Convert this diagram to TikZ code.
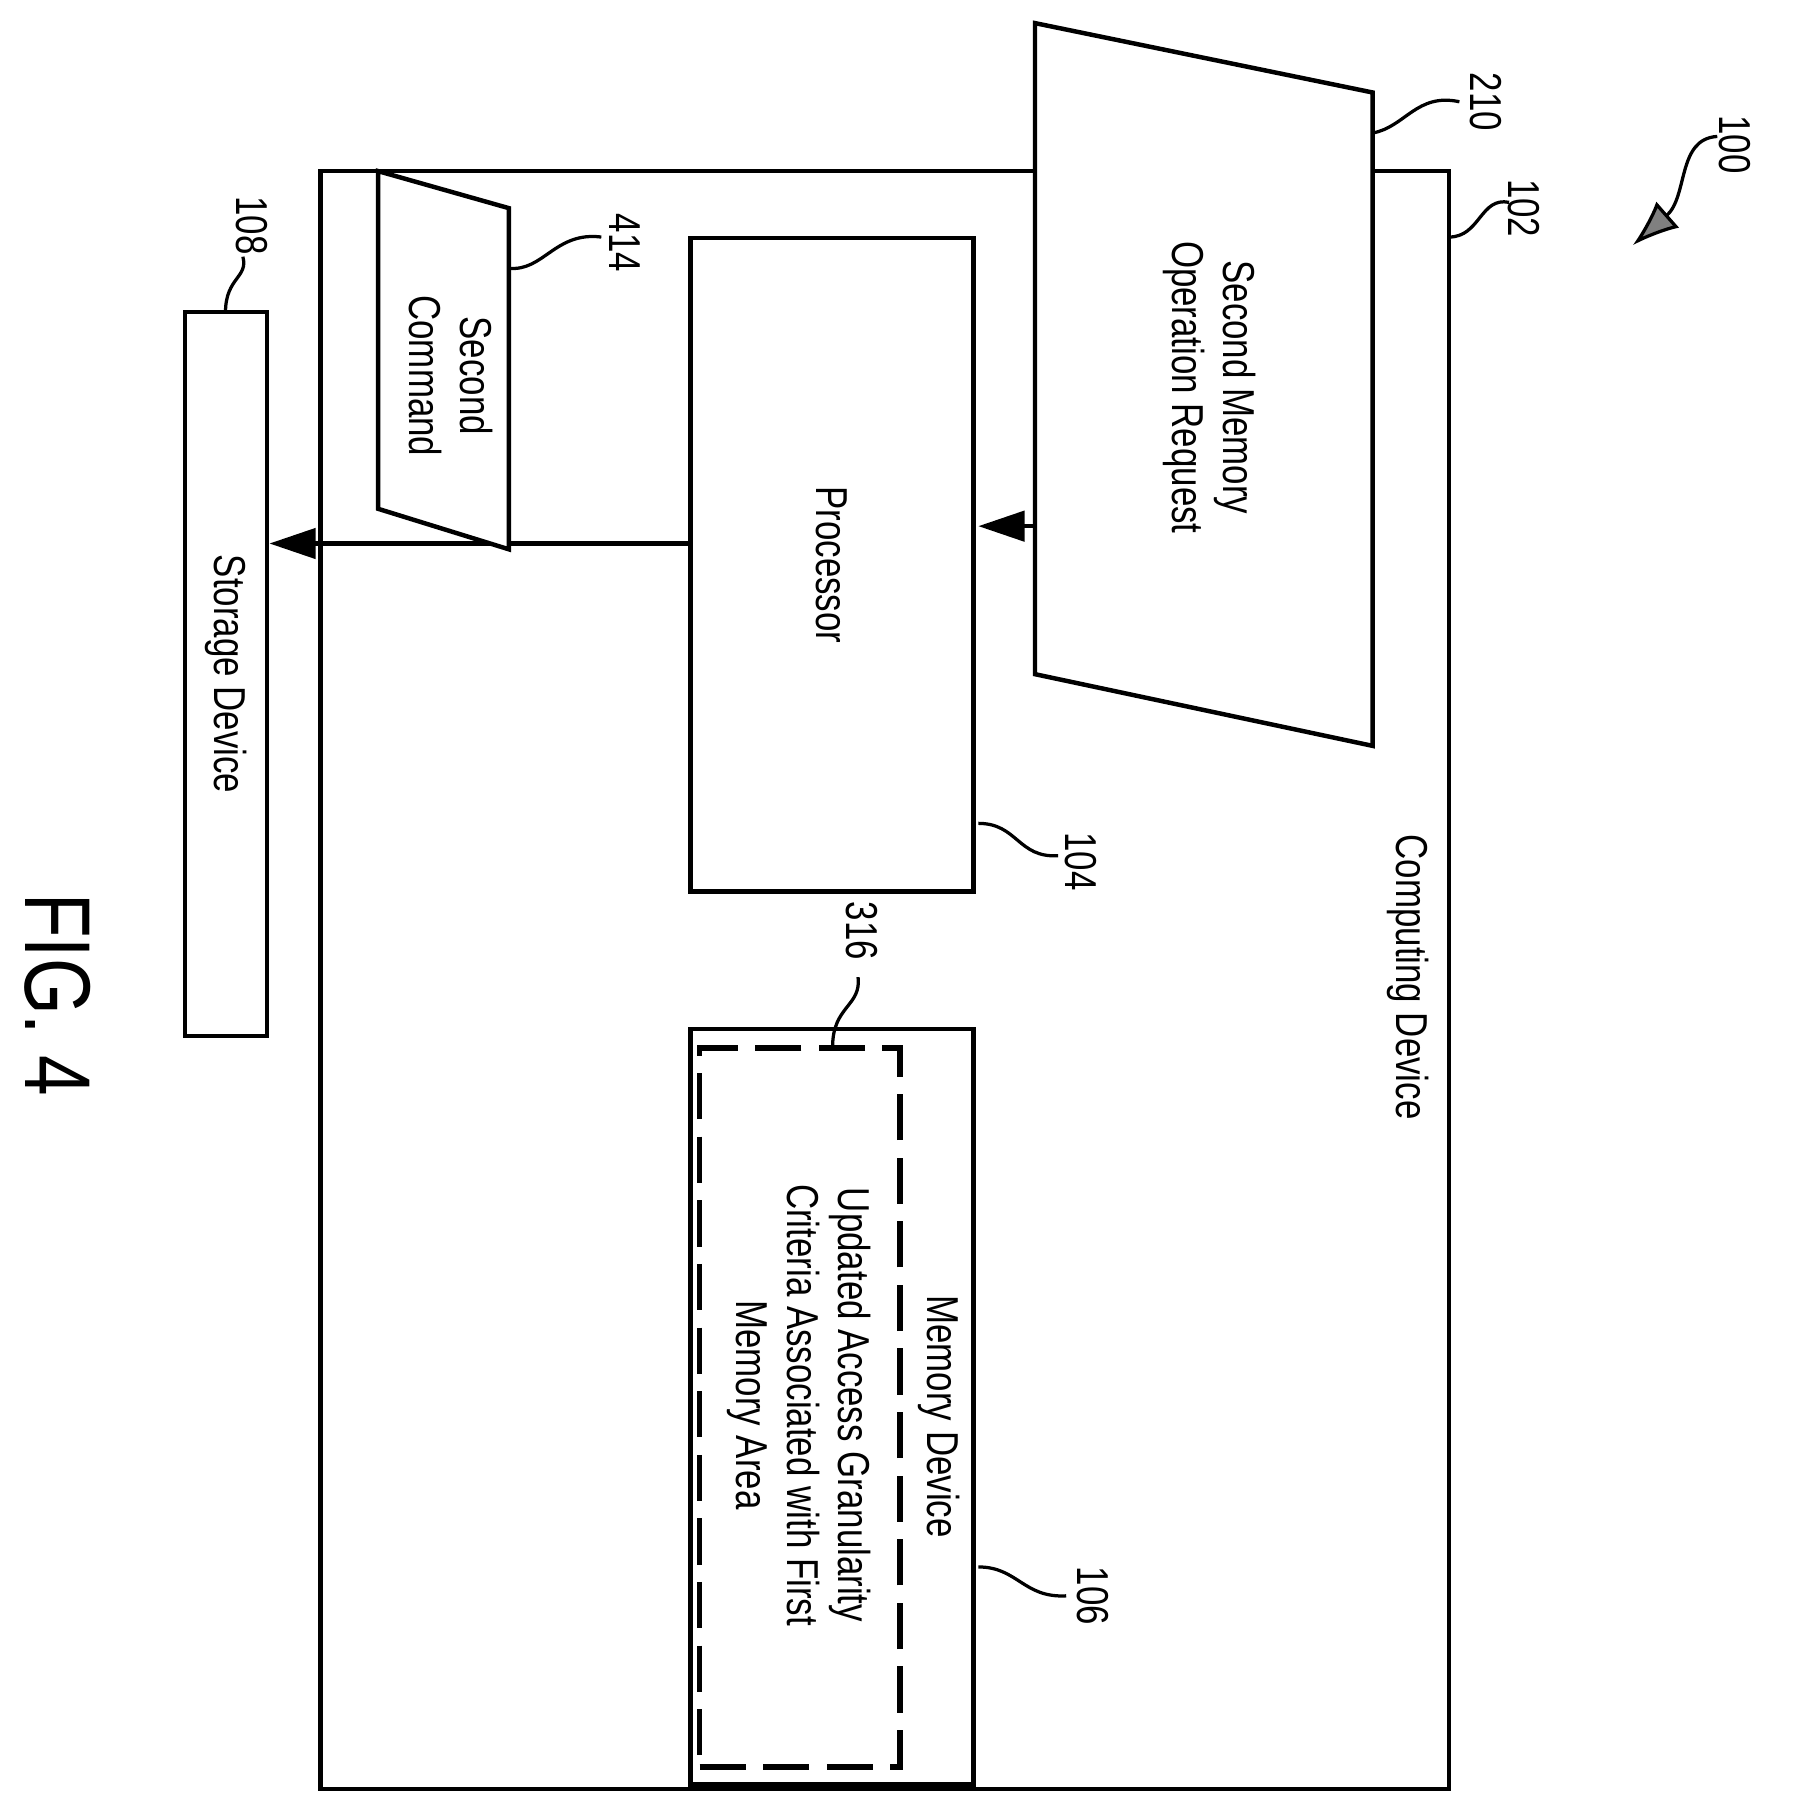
\documentclass[tikz,border=0pt]{standalone}
\usepackage{fontspec}
\setmainfont{Liberation Sans}
\usetikzlibrary{arrows.meta,decorations.pathmorphing}
\newcommand{\cnd}[1]{\scalebox{0.78}[1]{#1}}
\begin{document}
\begin{tikzpicture}[x=0.1mm,y=-0.1mm,line width=1.1pt,
  txt/.style={rotate=-90,font=\fontsize{11}{12.5}\selectfont,align=center,inner sep=0},
  lbl/.style={rotate=-90,font=\fontsize{11}{12}\selectfont,inner sep=0},
  box/.style={draw,anchor=north west,outer sep=0,inner sep=0},
  lead/.style={line width=0.8pt},
  arr/.style={-{Triangle[length=4mm,width=2.6mm]}}]
\useasboundingbox (0,0) rectangle (1560,1558);
\draw (277,148) rectangle (1253,1547);
\node[txt] (cd) at (1218,845) {\cnd{Computing Device}};
\draw[fill=white] (895,20) coordinate (t1) -- (1187,80) -- (1187,645) -- (895,583) -- cycle;
\node[txt] (smr) at (1045,335) {\cnd{\begin{tabular}{c}Second Memory\\Operation Request\end{tabular}}};
\node[box,minimum width=24.5mm,minimum height=56.5mm] (proc) at (597,206) {};
\node[txt] at (proc.center) {\cnd{Processor}};
\node[box,minimum width=24.5mm,minimum height=65.3mm] (mem) at (597,890) {};
\node[box,dash pattern=on 4mm off 1.5mm,line width=1.4pt,minimum width=17.3mm,minimum height=62.2mm] (gran) at (605,906) {};
\node[txt] at (812,1225) {\cnd{Memory Device}};
\node[txt] at (690,1215) {\cnd{\begin{tabular}{c}Updated Access Granularity\\Criteria Associated with First\\Memory Area\end{tabular}}};
\node[box,minimum width=7.1mm,minimum height=62.6mm] (stor) at (160,270) {};
\node[txt] at (stor.center) {\cnd{Storage Device}};
\draw[arr] (895,455) coordinate (a1) -- (846,455);
\draw[arr] (597,470) -- (233,470);
\draw[fill=white] (327,148) -- (440,180) -- (440,475) -- (327,440) -- cycle;
\node[txt] at (385,325) {\cnd{\begin{tabular}{c}Second\\Command\end{tabular}}};
% labels
\node[lbl] (l210) at (1285,88) {\cnd{210}};
\draw[lead] (1187,115) .. controls (1215,110) and (1225,80) .. (1262,88);
\node[lbl] (l102) at (1318,180) {\cnd{102}};
\draw[lead] (1253,205) .. controls (1280,205) and (1280,170) .. (1305,175);
\node[lbl] (l100) at (1500,125) {\cnd{100}};
\draw[line width=0.8pt,-{Latex[length=4mm,width=3mm,fill=gray]}] (1485,118) .. controls (1450,120) and (1460,170) .. (1412,212);
\node[lbl] (l414) at (540,210) {\cnd{414}};
\draw[lead] (440,232) .. controls (470,235) and (480,200) .. (520,205);
\node[lbl] (l108) at (218,195) {\cnd{108}};
\draw[lead] (195,270) .. controls (195,240) and (215,240) .. (210,222);
\node[lbl] (l104) at (935,745) {\cnd{104}};
\draw[lead] (846,712) .. controls (880,712) and (880,742) .. (915,740);
\node[lbl] (l316) at (745,805) {\cnd{316}};
\draw[lead] (720,905) .. controls (720,870) and (745,870) .. (742,845);
\node[lbl] (l106) at (945,1380) {\cnd{106}};
\draw[lead] (846,1355) .. controls (880,1355) and (885,1382) .. (922,1380);
\node[rotate=-90,font=\fontsize{23}{23}\selectfont,inner sep=0] (fig) at (50,860) {\cnd{FIG. 4}};
\end{tikzpicture}
\end{document}
